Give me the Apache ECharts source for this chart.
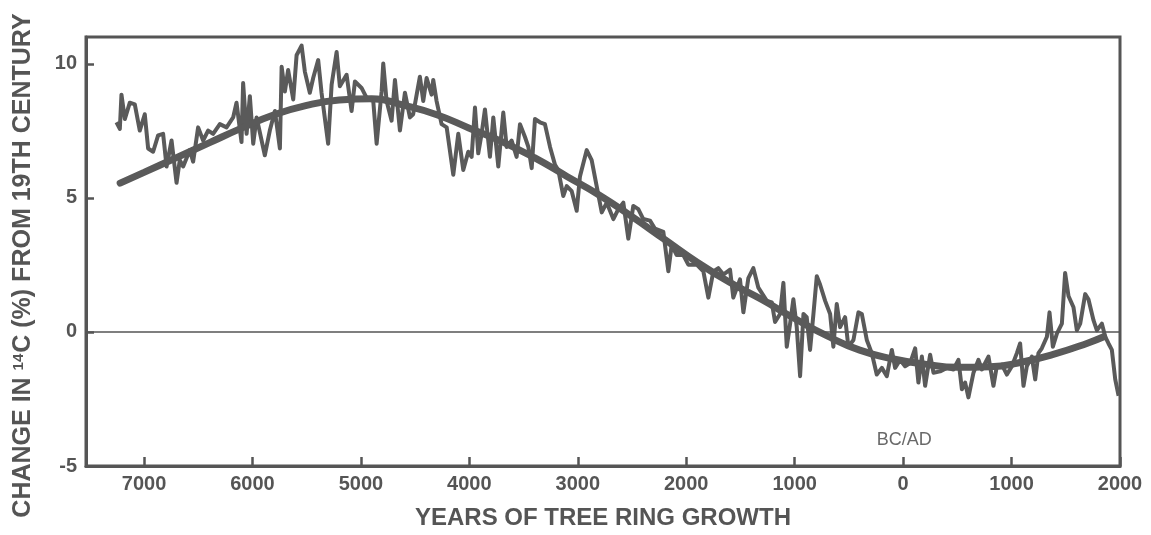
<!DOCTYPE html>
<html>
<head>
<meta charset="utf-8">
<script src="https://cdn.jsdelivr.net/npm/echarts@6/dist/echarts.min.js"></script>
<style>
html,body{margin:0;padding:0;background:#fff;}
#chart{width:1151px;height:535px;}
</style>
</head>
<body>
<div id="chart"></div>
<script>
// Year (negative = BC), change in 14C (%)
var rawYears = [
-7254,-7223,-7208,-7177,-7131,-7085,-7039,-6993,-6962,-6916,
-6870,-6824,-6792,-6746,-6700,-6670,-6639,-6578,-6547,-6501,
-6455,-6409,-6363,-6301,-6239,-6178,-6147,-6101,-6086,-6054,
-6024,-5993,-5962,-5886,-5840,-5793,-5747,-5731,-5701,-5671,
-5624,-5593,-5547,-5517,-5471,-5440,-5394,-5363,-5302,-5270,
-5224,-5194,-5132,-5086,-5055,-4994,-4947,-4886,-4855,-4809,
-4794,-4763,-4717,-4686,-4640,-4594,-4548,-4518,-4456,-4425,
-4394,-4348,-4333,-4302,-4256,-4209,-4148,-4102,-4056,-4010,
-3979,-3948,-3918,-3887,-3856,-3810,-3779,-3733,-3687,-3656,
-3610,-3564,-3533,-3487,-3456,-3425,-3395,-3349,-3303,-3256,
-3210,-3180,-3134,-3102,-3056,-3010,-2980,-2918,-2872,-2826,
-2779,-2733,-2672,-2626,-2580,-2534,-2488,-2442,-2396,-2334,
-2288,-2211,-2165,-2134,-2088,-2027,-1981,-1903,-1842,-1796,
-1750,-1704,-1658,-1596,-1566,-1504,-1473,-1427,-1381,-1335,
-1257,-1211,-1181,-1135,-1104,-1073,-1042,-1012,-981,-950,
-919,-889,-858,-827,-796,-766,-719,-673,-643,-612,
-581,-535,-505,-458,-412,-381,-335,-289,-243,-196,
-150,-104,-74,-28,18,65,111,141,173,203,
249,280,341,403,464,510,542,572,602,649,
695,726,787,833,864,910,957,1003,1049,1079,
1110,1141,1187,1218,1248,1279,1326,1350,1381,1418,
1464,1494,1525,1571,1602,1633,1679,1709,1756,1787,
1833,1864,1894,1925,1956,1987
];
var rawValues = [
7.82,7.57,8.85,7.94,8.55,8.49,7.51,8.12,6.84,6.72,
7.33,7.39,6.17,7.14,5.56,6.41,6.17,6.78,6.35,7.63,
7.14,7.51,7.39,7.75,7.63,8.0,8.55,7.08,9.28,7.39,
8.79,7.02,8.0,6.59,7.51,8.24,6.84,9.89,8.97,9.77,
8.67,10.32,10.68,9.71,8.92,9.47,10.14,8.92,7.02,9.22,
10.44,9.16,9.59,8.24,9.34,9.1,8.73,8.61,7.02,8.97,
10.01,8.61,7.88,9.4,7.51,8.92,8.0,8.12,9.52,8.61,
9.47,8.85,9.4,8.61,7.75,7.63,5.86,7.39,6.04,6.72,
6.53,8.37,6.66,7.39,8.3,6.53,8.0,6.17,8.18,6.9,
7.14,6.53,7.75,7.27,6.9,6.11,7.94,7.82,7.75,6.9,
6.23,6.04,5.07,5.44,5.25,4.52,5.8,6.78,6.41,5.44,
4.46,4.82,4.21,4.58,4.82,3.48,4.7,4.58,4.21,4.15,
3.85,3.73,2.26,3.24,2.87,2.87,2.51,2.51,2.26,1.28,
2.26,2.38,2.14,2.32,1.28,1.96,0.73,2.01,2.38,1.65,
1.16,1.1,0.37,0.67,1.83,-0.55,0.31,1.22,0.18,-1.65,
0.67,0.55,-0.67,0.67,2.08,1.77,1.16,0.67,-0.55,1.04,
0.18,0.55,-0.55,-0.3,0.73,0.67,-0.3,-0.79,-1.59,-1.34,
-1.65,-0.67,-1.34,-1.04,-1.28,-1.16,-0.61,-1.89,-0.92,-2.01,
-0.85,-1.52,-1.47,-1.34,-1.4,-1.04,-2.14,-1.89,-2.44,-1.52,
-1.04,-1.4,-0.92,-2.01,-1.28,-1.22,-1.59,-1.28,-0.79,-0.43,
-2.01,-1.28,-0.92,-1.77,-0.79,-0.61,-0.18,0.73,-0.55,-0.06,
0.31,2.2,1.34,0.92,0.06,0.31,1.41,1.22,0.43,0.06,
0.31,-0.18,-0.43,-0.67,-1.77,-2.38
];
var smoothYears = [-7220,-7000,-6700,-6400,-6100,-5800,-5500,-5200,-4900,-4600,-4300,-4000,-3700,-3400,-3100,-2800,-2500,-2200,-1900,-1600,-1300,-1000,-700,-400,-100,200,500,800,1100,1400,1700,1850];
var smoothValues = [5.55,5.95,6.5,7.05,7.6,8.1,8.45,8.65,8.7,8.45,8.1,7.6,7.1,6.5,5.8,5.1,4.3,3.45,2.6,1.85,1.2,0.5,-0.15,-0.68,-1.0,-1.2,-1.32,-1.3,-1.12,-0.82,-0.42,-0.18];
var xTickValues = [-7000,-6000,-5000,-4000,-3000,-2000,-1000,0,1000,2000];
var yTickValues = [-5,0,5,10];
var annotationText = 'BC/AD';
var annotationPos = [10, -4.04];

function pairs(xs, ys){ var out=[]; for(var i=0;i<xs.length;i++){ out.push([xs[i], ys[i]]); } return out; }

var gray = '#5a5a5a';
var textGray = '#555555';
var font = "'Liberation Sans', Arial, sans-serif";

var chart = echarts.init(document.getElementById('chart'), null, {renderer:'canvas'});
chart.setOption({
  animation: false,
  backgroundColor: '#ffffff',
  grid: {left: 86, right: 31, top: 37, bottom: 67, show: true, borderColor: '#555', borderWidth: 3, backgroundColor: 'transparent'},
  xAxis: {
    type: 'value', min: -7535, max: 2000,
    name: 'YEARS OF TREE RING GROWTH', nameLocation: 'middle', nameGap: 40,
    nameTextStyle: {fontFamily: font, fontWeight: 'bold', fontSize: 24, color: textGray},
    axisLine: {show: true, onZero: false, lineStyle: {color: '#555', width: 3}},
    splitLine: {show: false},
    axisTick: {show: true, inside: true, length: 9, customValues: xTickValues, lineStyle: {color: '#555', width: 2.5}},
    axisLabel: {show: true, customValues: xTickValues, margin: 8, fontFamily: font, fontWeight: 'bold', fontSize: 20, color: textGray,
      formatter: function(v){ return String(Math.abs(v)); }}
  },
  yAxis: {
    type: 'value', min: -5, max: 11,
    name: 'CHANGE IN {sup|14}C (%) FROM 19TH CENTURY', nameLocation: 'middle', nameGap: 50, nameRotate: 90,
    nameTextStyle: {fontFamily: font, fontWeight: 'bold', fontSize: 25, color: textGray, padding: [0, 28, 0, 0],
      rich: {sup: {fontFamily: font, fontWeight: 'bold', fontSize: 15, color: textGray, verticalAlign: 'top', padding: [0, 1, 10, 0]}}},
    axisLine: {show: true, onZero: false, lineStyle: {color: '#555', width: 3}},
    splitLine: {show: false},
    axisTick: {show: true, inside: true, length: 8, customValues: yTickValues, lineStyle: {color: '#555', width: 2.5}},
    axisLabel: {show: true, customValues: yTickValues, margin: 9, fontFamily: font, fontWeight: 'bold', fontSize: 20, color: textGray}
  },
  series: [
    {
      type: 'line', name: 'raw', data: pairs(rawYears, rawValues),
      showSymbol: false, smooth: false,
      lineStyle: {color: gray, width: 4, join: 'round'},
      markLine: {silent: true, symbol: 'none', label: {show: false},
        lineStyle: {color: '#555', width: 1.5, type: 'solid'},
        data: [{yAxis: 0}]}
    },
    {
      type: 'line', name: 'smooth', data: pairs(smoothYears, smoothValues),
      showSymbol: false, smooth: true,
      lineStyle: {color: gray, width: 7, cap: 'round'}
    },
    {
      type: 'scatter', name: 'note', data: [annotationPos], symbolSize: 0,
      label: {show: true, position: 'inside', formatter: annotationText, fontFamily: font, fontSize: 18, color: '#444'}
    }
  ]
});
</script>
</body>
</html>
